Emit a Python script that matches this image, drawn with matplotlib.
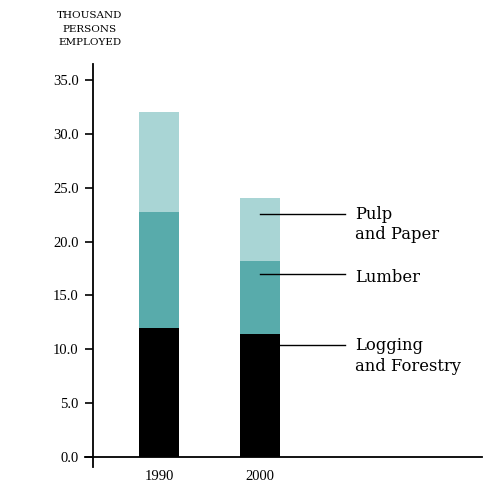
import matplotlib
matplotlib.use("Agg")
import matplotlib.pyplot as plt
import matplotlib.transforms as mtransforms

years = ["1990", "2000"]
logging_forestry = [11.95, 11.45]
lumber = [10.85, 6.75]
pulp_paper = [9.2, 5.9]
yticks = [0, 5, 10, 15, 20, 25, 30, 35]
series_labels = ["Logging\nand Forestry", "Lumber", "Pulp\nand Paper"]

c_log = "#000000"
c_lum = "#58abab"
c_pulp = "#a9d5d5"

plt.rcParams['font.family'] = ['Liberation Serif', 'DejaVu Serif']

fig = plt.figure(figsize=(4.84, 4.87), dpi=100)
W, H = 484, 487
left_px, right_px = 92.7, 484
top_px, bot_px = 64, 467
ax = fig.add_axes([left_px / W, 1 - bot_px / H, (right_px - left_px) / W, (bot_px - top_px) / H])

x = [0, 1]
bw = 0.4
b1 = [a + b for a, b in zip(logging_forestry, lumber)]
ax.bar(x, logging_forestry, width=bw, color=c_log, zorder=2)
ax.bar(x, lumber, width=bw, bottom=logging_forestry, color=c_lum, zorder=2)
ax.bar(x, pulp_paper, width=bw, bottom=b1, color=c_pulp, zorder=2)

ax.set_xlim(-0.656, 3.22)
ax.set_ylim(-0.93, 36.5)

for s in ["top", "right", "bottom"]:
    ax.spines[s].set_visible(False)
ax.spines["left"].set_linewidth(1.3)
ax.set_yticks(yticks)
ax.set_yticklabels([f"{v:.1f}" for v in yticks], fontsize=10.5)
ax.tick_params(axis="y", length=6, width=1.2, pad=4)
ax.set_xticks(x)
ax.set_xticklabels(years, fontsize=10.5)
ax.tick_params(axis="x", length=0, pad=2)

# baseline
trans = mtransforms.blended_transform_factory(ax.transAxes, ax.transData)
ax.plot([-0.02, 0.995], [0, 0], transform=trans, color="black", lw=1.3, clip_on=False, zorder=3)

# leader lines and labels
y_pulp = 22.6
y_lum = 16.96
y_log = 10.4
lx_end = 1.84
tx = 1.94
lab_font = dict(family=['DejaVu Serif'], fontsize=11.8, ha="left", linespacing=1.3)
ax.plot([1.0, lx_end], [y_pulp, y_pulp], color="black", lw=1, zorder=3)
ax.plot([1.0, lx_end], [y_lum, y_lum], color="black", lw=1, zorder=3)
ax.plot([1.0 + bw / 2, lx_end], [y_log, y_log], color="black", lw=1, zorder=3)
ax.text(tx, 23.35, series_labels[2], va="top", **lab_font)
ax.text(tx, 16.7, series_labels[1], va="center", **lab_font)
ax.text(tx, 11.1, series_labels[0], va="top", **lab_font)

fig.text(90 / W, 1 - 29 / H, "THOUSAND\nPERSONS\nEMPLOYED", family=['DejaVu Serif'],
         fontsize=7.5, ha="center", va="center", linespacing=1.65)

fig.savefig("out.png", dpi=100)
